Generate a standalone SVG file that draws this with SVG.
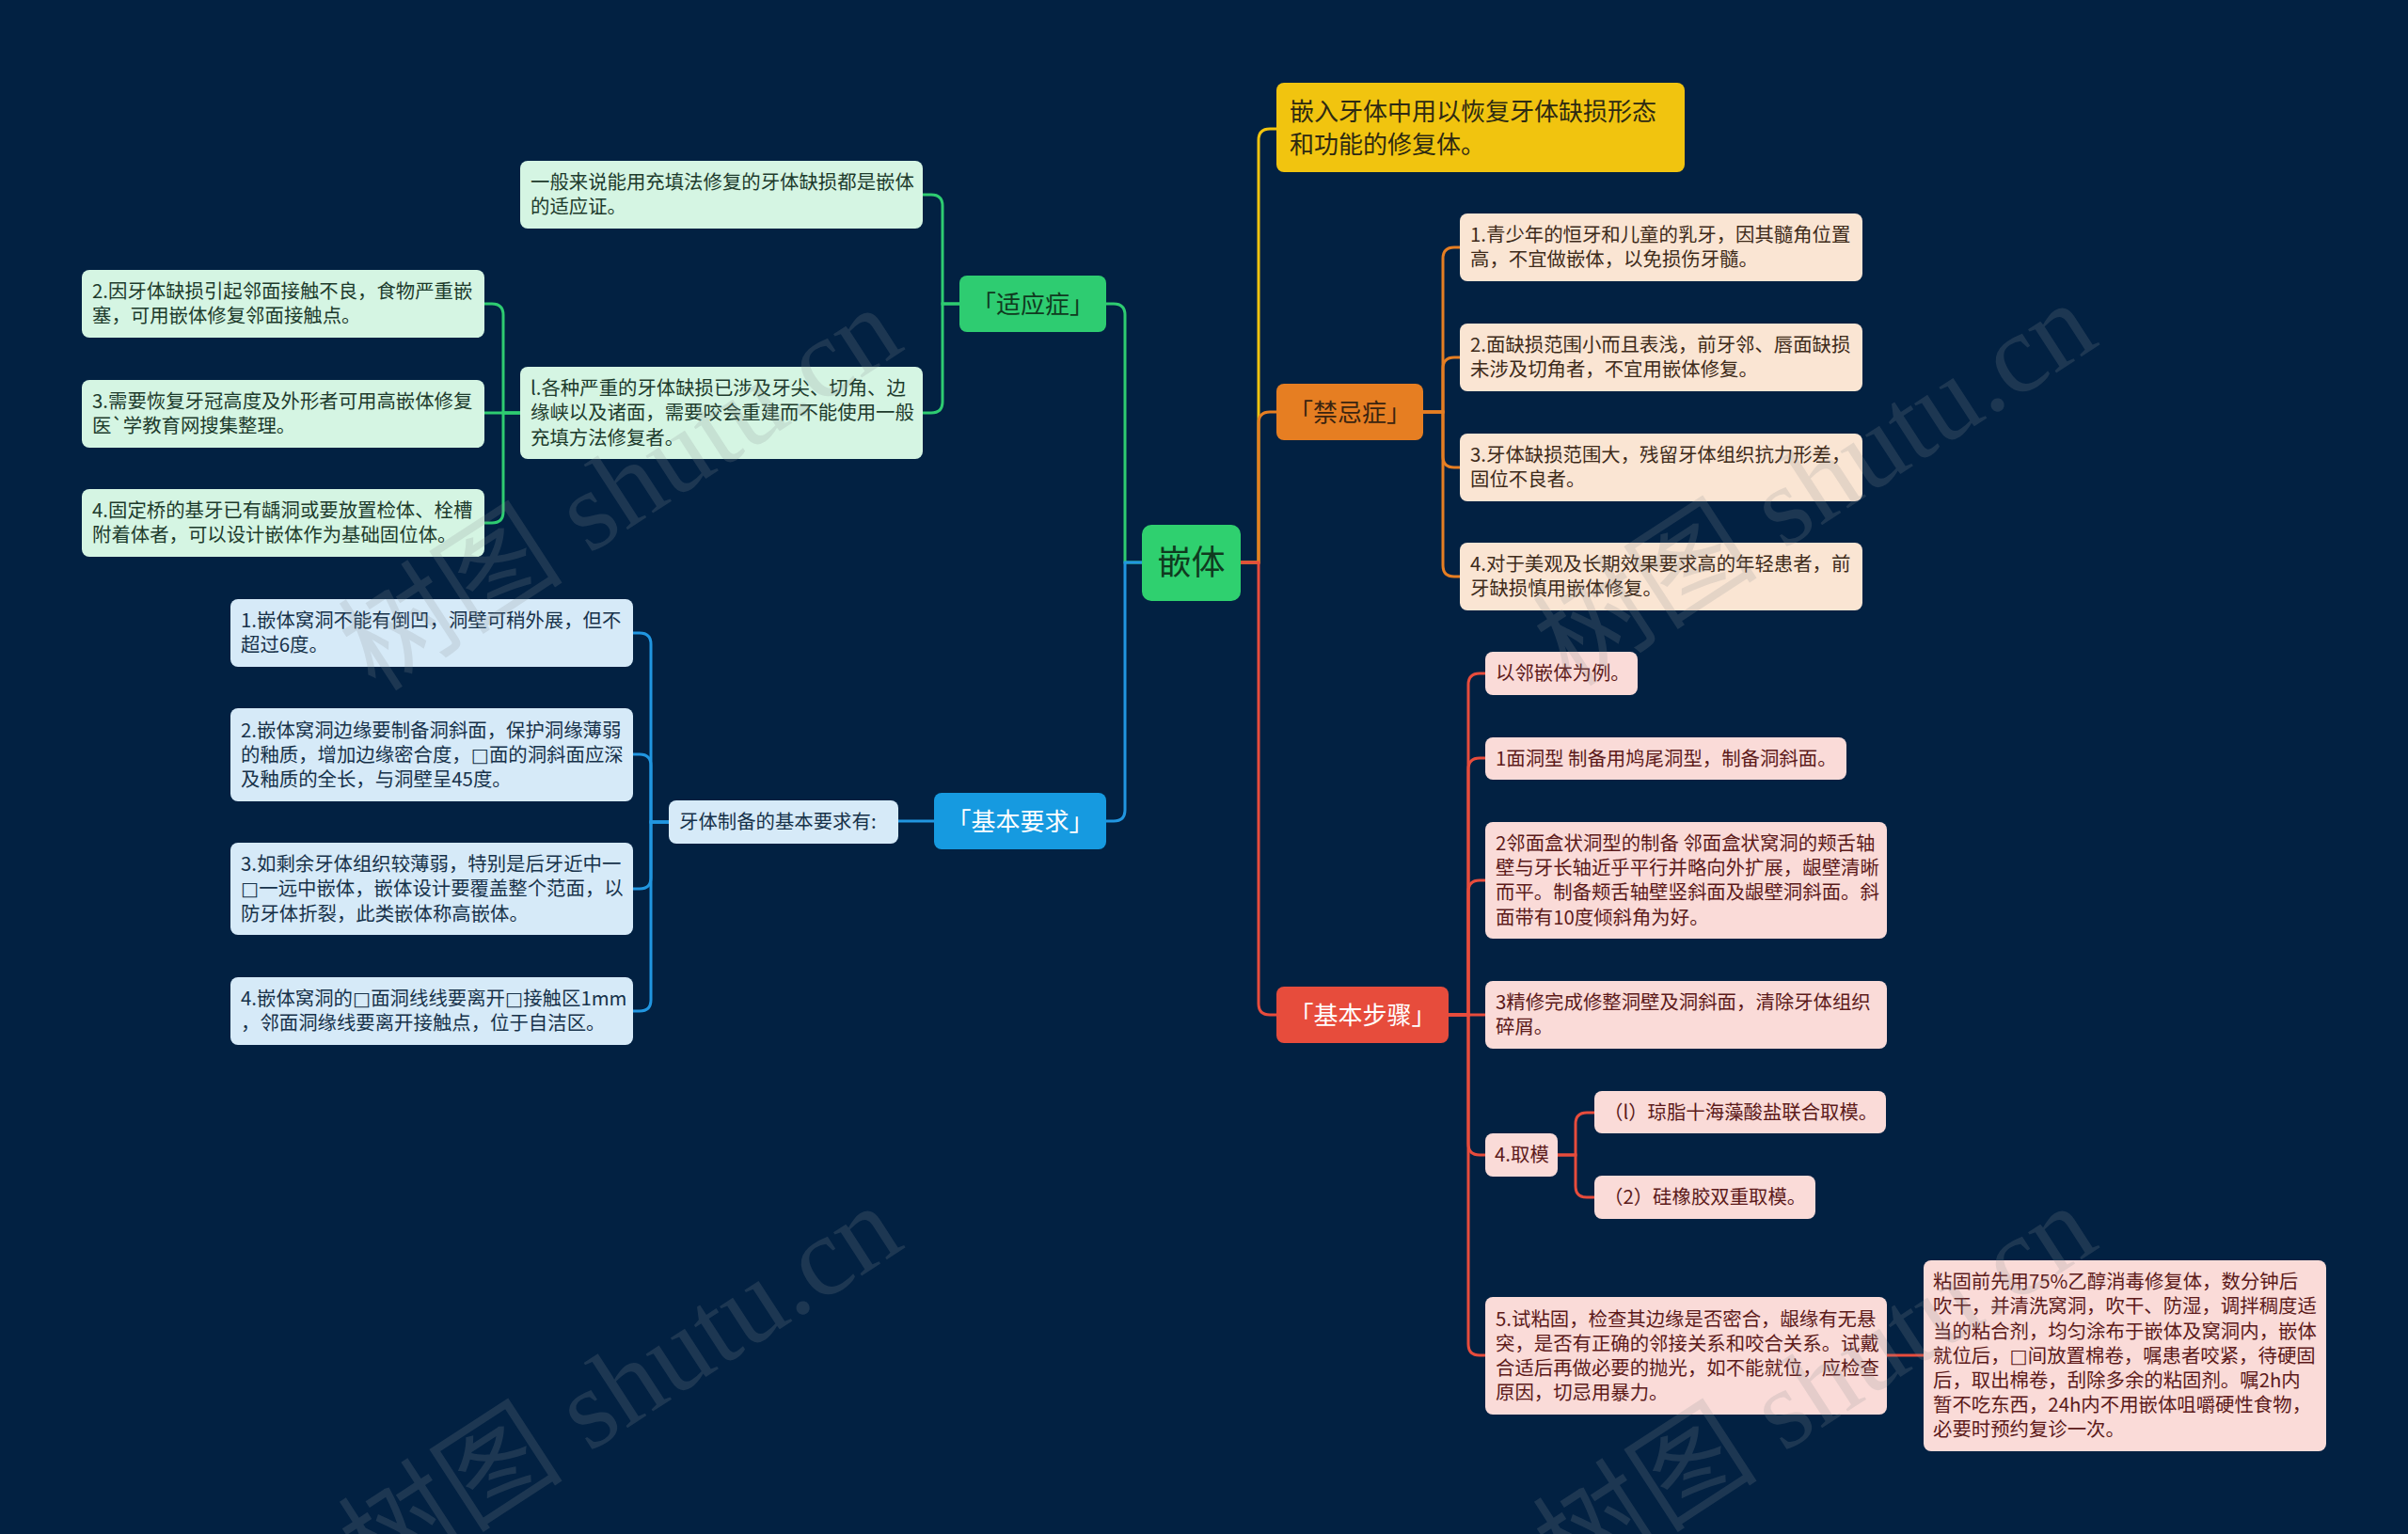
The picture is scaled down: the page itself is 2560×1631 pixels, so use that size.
<svg xmlns="http://www.w3.org/2000/svg" width="2560" height="1631" viewBox="0 0 2560 1631">
<style>
text{font-family:"Noto Sans CJK SC","Noto Sans",sans-serif}
.t{font-size:20.4px}
.lg rect{fill:#d5f5e3}.lg text{fill:#1d3b2c}
.pc rect{fill:#fae5d3}.pc text{fill:#3e2b1a}
.lb rect{fill:#d6eaf8}.lb text{fill:#17324a}
.pk rect{fill:#fadbd8}.pk text{fill:#5c1a1a}
.br text{font-size:26px;text-anchor:middle}
.c{fill:none;stroke-width:3}
.wm{font-family:"Liberation Serif","Noto Sans CJK SC",serif;font-size:120px;fill:#8a9098;fill-opacity:0.2}
.sq{font-family:"DejaVu Sans",sans-serif}
</style>
<rect width="2560" height="1631" fill="#022142"/>
<g id="connectors">
<path class="c" stroke="#f1c40f" d="M1319,598 H1338 V149 Q1338,137 1350,137 H1357"/>
<path class="c" stroke="#e67e22" d="M1319,598 H1338 V450 Q1338,438 1350,438 H1357"/>
<path class="c" stroke="#e74c3c" d="M1319,598 H1338 V1067 Q1338,1079 1350,1079 H1357"/>
<path class="c" stroke="#2ecc71" d="M1214,598 H1196 V335 Q1196,323 1184,323 H1176"/>
<path class="c" stroke="#2196e0" d="M1214,598 H1196 V861 Q1196,873 1184,873 H1176"/>
<path class="c" stroke="#2ecc71" d="M1020,323 H1002 V219 Q1002,207 990,207 H981"/>
<path class="c" stroke="#2ecc71" d="M1020,323 H1002 V427 Q1002,439 990,439 H981"/>
<path class="c" stroke="#2ecc71" d="M553,439 H535 V335 Q535,323 523,323 H515"/>
<path class="c" stroke="#2ecc71" d="M553,439 H515"/>
<path class="c" stroke="#2ecc71" d="M553,439 H535 V544 Q535,556 523,556 H515"/>
<path class="c" stroke="#2196e0" d="M993,873 H955"/>
<path class="c" stroke="#2196e0" d="M711,874 H692 V685 Q692,673 680,673 H673"/>
<path class="c" stroke="#2196e0" d="M711,874 H692 V814 Q692,802 680,802 H673"/>
<path class="c" stroke="#2196e0" d="M711,874 H692 V933 Q692,945 680,945 H673"/>
<path class="c" stroke="#2196e0" d="M711,874 H692 V1063 Q692,1075 680,1075 H673"/>
<path class="c" stroke="#e67e22" d="M1513,438 H1534 V275 Q1534,263 1546,263 H1552"/>
<path class="c" stroke="#e67e22" d="M1513,438 H1534 V392 Q1534,380 1546,380 H1552"/>
<path class="c" stroke="#e67e22" d="M1513,438 H1534 V485 Q1534,497 1546,497 H1552"/>
<path class="c" stroke="#e67e22" d="M1513,438 H1534 V601 Q1534,613 1546,613 H1552"/>
<path class="c" stroke="#e74c3c" d="M1540,1079 H1561 V728 Q1561,716 1573,716 H1579"/>
<path class="c" stroke="#e74c3c" d="M1540,1079 H1561 V818 Q1561,806 1573,806 H1579"/>
<path class="c" stroke="#e74c3c" d="M1540,1079 H1561 V948 Q1561,936 1573,936 H1579"/>
<path class="c" stroke="#e74c3c" d="M1540,1079 H1579"/>
<path class="c" stroke="#e74c3c" d="M1540,1079 H1561 V1216 Q1561,1228 1573,1228 H1579"/>
<path class="c" stroke="#e74c3c" d="M1540,1079 H1561 V1429 Q1561,1441 1573,1441 H1579"/>
<path class="c" stroke="#e74c3c" d="M1656,1228 H1675 V1195 Q1675,1183 1687,1183 H1695"/>
<path class="c" stroke="#e74c3c" d="M1656,1228 H1675 V1261 Q1675,1273 1687,1273 H1695"/>
<path class="c" stroke="#e74c3c" d="M2006,1441 H2045"/>
</g>
<g id="root">
<rect x="1214" y="558" width="105" height="81" rx="10" fill="#2fd06f"/>
<text x="1266.5" y="611" font-size="36" text-anchor="middle" fill="#103a1f">嵌体</text>
</g>
<g id="def">
<rect x="1357" y="88" width="434" height="95" rx="8" fill="#f1c40f"/>
<text x="1371" font-size="26" fill="#2e2a12"><tspan x="1371" y="127.5">嵌入牙体中用以恢复牙体缺损形态</tspan><tspan x="1371" y="162.5">和功能的修复体。</tspan></text>
</g>
<g id="b-syz" class="br">
<rect x="1020" y="293" width="156" height="60" rx="8" fill="#2ecc71"/>
<text x="1098" y="333" fill="#103a1f">「适应症」</text>
</g>
<g id="b-jjz" class="br">
<rect x="1357" y="408" width="156" height="60" rx="8" fill="#e67e22"/>
<text x="1435" y="448" fill="#3a2410">「禁忌症」</text>
</g>
<g id="b-jbyq" class="br">
<rect x="993" y="843" width="183" height="60" rx="8" fill="#169ae0"/>
<text x="1084.5" y="883" fill="#ffffff">「基本要求」</text>
</g>
<g id="b-jbbz" class="br">
<rect x="1357" y="1049" width="183" height="60" rx="8" fill="#e74c3c"/>
<text x="1448.5" y="1089" fill="#ffffff">「基本步骤」</text>
</g>
<g id="a1" class="lg"><rect x="553" y="171" width="428" height="72" rx="8"/>
<text class="t"><tspan x="564" y="201.2">一般来说能用充填法修复的牙体缺损都是嵌体</tspan><tspan x="564" y="227.4">的适应证。</tspan></text></g>
<g id="a2" class="lg"><rect x="553" y="390" width="428" height="98" rx="8"/>
<text class="t"><tspan x="564" y="420.1">l.各种严重的牙体缺损已涉及牙尖、切角、边</tspan><tspan x="564" y="446.3">缘峡以及诸面，需要咬会重建而不能使用一般</tspan><tspan x="564" y="472.5">充填方法修复者。</tspan></text></g>
<g id="aa" class="lg"><rect x="87" y="287" width="428" height="72" rx="8"/>
<text class="t"><tspan x="98" y="317.2">2.因牙体缺损引起邻面接触不良，食物严重嵌</tspan><tspan x="98" y="343.4">塞，可用嵌体修复邻面接触点。</tspan></text></g>
<g id="ab" class="lg"><rect x="87" y="404" width="428" height="72" rx="8"/>
<text class="t"><tspan x="98" y="434.2">3.需要恢复牙冠高度及外形者可用高嵌体修复</tspan><tspan x="98" y="460.4">医`学教育网搜集整理。</tspan></text></g>
<g id="ac" class="lg"><rect x="87" y="520" width="428" height="72" rx="8"/>
<text class="t"><tspan x="98" y="550.2">4.固定桥的基牙已有龋洞或要放置检体、栓槽</tspan><tspan x="98" y="576.4">附着体者，可以设计嵌体作为基础固位体。</tspan></text></g>
<g id="j1" class="pc"><rect x="1552" y="227" width="428" height="72" rx="8"/>
<text class="t"><tspan x="1563" y="257.2">1.青少年的恒牙和儿童的乳牙，因其髓角位置</tspan><tspan x="1563" y="283.4">高，不宜做嵌体，以免损伤牙髓。</tspan></text></g>
<g id="j2" class="pc"><rect x="1552" y="344" width="428" height="72" rx="8"/>
<text class="t"><tspan x="1563" y="374.2">2.面缺损范围小而且表浅，前牙邻、唇面缺损</tspan><tspan x="1563" y="400.4">未涉及切角者，不宜用嵌体修复。</tspan></text></g>
<g id="j3" class="pc"><rect x="1552" y="461" width="428" height="72" rx="8"/>
<text class="t"><tspan x="1563" y="491.2">3.牙体缺损范围大，残留牙体组织抗力形差，</tspan><tspan x="1563" y="517.4">固位不良者。</tspan></text></g>
<g id="j4" class="pc"><rect x="1552" y="577" width="428" height="72" rx="8"/>
<text class="t"><tspan x="1563" y="607.2">4.对于美观及长期效果要求高的年轻患者，前</tspan><tspan x="1563" y="633.4">牙缺损慎用嵌体修复。</tspan></text></g>
<g id="y0" class="lb"><rect x="711" y="851" width="244" height="46" rx="8"/>
<text class="t" x="722" y="881.3">牙体制备的基本要求有:</text></g>
<g id="y1" class="lb"><rect x="245" y="637" width="428" height="72" rx="8"/>
<text class="t"><tspan x="256" y="667.2">1.嵌体窝洞不能有倒凹，洞壁可稍外展，但不</tspan><tspan x="256" y="693.4">超过6度。</tspan></text></g>
<g id="y2" class="lb"><rect x="245" y="753" width="428" height="99" rx="8"/>
<text class="t"><tspan x="256" y="783.6">2.嵌体窝洞边缘要制备洞斜面，保护洞缘薄弱</tspan><tspan x="256" y="809.8">的釉质，增加边缘密合度，<tspan class="sq">□</tspan>面的洞斜面应深</tspan><tspan x="256" y="836">及釉质的全长，与洞壁呈45度。</tspan></text></g>
<g id="y3" class="lb"><rect x="245" y="896" width="428" height="98" rx="8"/>
<text class="t"><tspan x="256" y="926.1">3.如剩余牙体组织较薄弱，特别是后牙近中一</tspan><tspan x="256" y="952.3"><tspan class="sq">□</tspan>一远中嵌体，嵌体设计要覆盖整个范面，以</tspan><tspan x="256" y="978.5">防牙体折裂，此类嵌体称高嵌体。</tspan></text></g>
<g id="y4" class="lb"><rect x="245" y="1039" width="428" height="72" rx="8"/>
<text class="t"><tspan x="256" y="1069.2">4.嵌体窝洞的<tspan class="sq">□</tspan>面洞线线要离开<tspan class="sq">□</tspan>接触区1mm</tspan><tspan x="256" y="1095.4">，邻面洞缘线要离开接触点，位于自洁区。</tspan></text></g>
<g id="s0" class="pk"><rect x="1579" y="693" width="162" height="46" rx="8"/>
<text class="t" x="1590" y="723.3">以邻嵌体为例。</text></g>
<g id="s1" class="pk"><rect x="1579" y="784" width="384" height="45" rx="8"/>
<text class="t" x="1590" y="813.8">1面洞型 制备用鸠尾洞型，制备洞斜面。</text></g>
<g id="s2" class="pk"><rect x="1579" y="874" width="427" height="124" rx="8"/>
<text class="t"><tspan x="1590" y="904">2邻面盒状洞型的制备 邻面盒状窝洞的颊舌轴</tspan><tspan x="1590" y="930.2">壁与牙长轴近乎平行并略向外扩展，龈壁清晰</tspan><tspan x="1590" y="956.4">而平。制备颊舌轴壁竖斜面及龈壁洞斜面。斜</tspan><tspan x="1590" y="982.6">面带有10度倾斜角为好。</tspan></text></g>
<g id="s3" class="pk"><rect x="1579" y="1043" width="427" height="72" rx="8"/>
<text class="t"><tspan x="1590" y="1073.2">3精修完成修整洞壁及洞斜面，清除牙体组织</tspan><tspan x="1590" y="1099.4">碎屑。</tspan></text></g>
<g id="s4" class="pk"><rect x="1579" y="1205" width="77" height="46" rx="8"/>
<text class="t" x="1589" y="1235.3">4.取模</text></g>
<g id="s41" class="pk"><rect x="1695" y="1160" width="310" height="45" rx="8"/>
<text class="t" x="1705" y="1189.8">（l）琼脂十海藻酸盐联合取模。</text></g>
<g id="s42" class="pk"><rect x="1695" y="1250" width="235" height="46" rx="8"/>
<text class="t" x="1705" y="1280.3">（2）硅橡胶双重取模。</text></g>
<g id="s5" class="pk"><rect x="1579" y="1379" width="427" height="125" rx="8"/>
<text class="t"><tspan x="1590" y="1409.5">5.试粘固，检查其边缘是否密合，龈缘有无悬</tspan><tspan x="1590" y="1435.7">突，是否有正确的邻接关系和咬合关系。试戴</tspan><tspan x="1590" y="1461.9">合适后再做必要的抛光，如不能就位，应检查</tspan><tspan x="1590" y="1488.1">原因，切忌用暴力。</tspan></text></g>
<g id="s51" class="pk"><rect x="2045" y="1340" width="428" height="203" rx="8"/>
<text class="t"><tspan x="2055" y="1370.2">粘固前先用75%乙醇消毒修复体，数分钟后</tspan><tspan x="2055" y="1396.4">吹干，并清洗窝洞，吹干、防湿，调拌稠度适</tspan><tspan x="2055" y="1422.6">当的粘合剂，均匀涂布于嵌体及窝洞内，嵌体</tspan><tspan x="2055" y="1448.8">就位后，<tspan class="sq">□</tspan>间放置棉卷，嘱患者咬紧，待硬固</tspan><tspan x="2055" y="1475">后，取出棉卷，刮除多余的粘固剂。嘱2h内</tspan><tspan x="2055" y="1501.2">暂不吃东西，24h内不用嵌体咀嚼硬性食物，</tspan><tspan x="2055" y="1527.4">必要时预约复诊一次。</tspan></text></g>
<g id="watermarks">
<text class="wm" transform="translate(660,520) rotate(-33)" text-anchor="middle" y="40">树图 shutu.cn</text>
<text class="wm" transform="translate(1930,515) rotate(-33)" text-anchor="middle" y="40">树图 shutu.cn</text>
<text class="wm" transform="translate(660,1475) rotate(-33)" text-anchor="middle" y="40">树图 shutu.cn</text>
<text class="wm" transform="translate(1930,1475) rotate(-33)" text-anchor="middle" y="40">树图 shutu.cn</text>
</g>
</svg>
